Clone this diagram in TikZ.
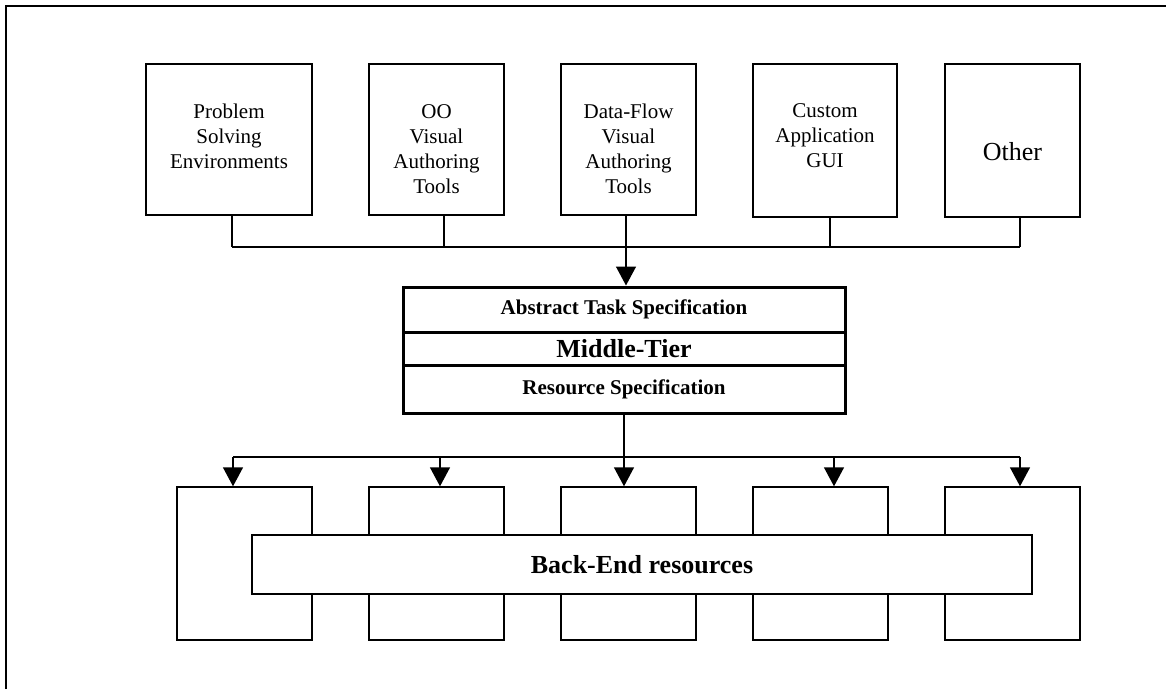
\documentclass[tikz,border=0pt]{standalone}
\usepackage{fontspec}
\setmainfont{Liberation Serif}
\usetikzlibrary{arrows.meta,calc}
\tikzset{
  x=1pt,y=-1pt,
  box/.style={draw,line width=1.4pt,fill=white,inner sep=0pt},
  tiertext/.style={font=\fontsize{21}{25}\selectfont\bfseries},
  toptext/.style={font=\fontsize{21}{25}\selectfont,align=center,inner sep=0pt},
  band/.style={draw,line width=3pt,minimum width=442pt,inner sep=0pt},
  wire/.style={line width=1.4pt},
  arr/.style={line width=1.4pt,-{Triangle[width=20pt,length=19pt]}}
}
\begin{document}
\begin{tikzpicture}
\useasboundingbox (0,0) rectangle (1166,689);
% outer frame (only top and left visible)
\draw[line width=1.5pt] (6,689) -- (6,6) -- (1166,6);

% top boxes
\node[box,minimum width=166pt,minimum height=151pt] (t1) at (229,139.5) {};
\node[box,minimum width=135pt,minimum height=151pt] (t2) at (436.5,139.5) {};
\node[box,minimum width=135pt,minimum height=151pt] (t3) at (628.5,139.5) {};
\node[box,minimum width=144pt,minimum height=153pt] (t4) at (825,140.5) {};
\node[box,minimum width=135pt,minimum height=153pt] (t5) at (1012.5,140.5) {};
\node[toptext] (l1) at (229,136) {Problem\\Solving\\Environments};
\node[toptext] (l2) at (436.5,149) {OO\\Visual\\Authoring\\Tools};
\node[toptext] (l3) at (628.5,149) {Data-Flow\\Visual\\Authoring\\Tools};
\node[toptext] (l4) at (825,136) {Custom\\Application\\GUI};
\node[toptext,font=\fontsize{26}{30}\selectfont] (l5) at (1012.5,152) {Other};

% top bus
\coordinate (c1) at ($(t1.south)+(3,0)$);
\coordinate (c2) at ($(t2.south)+(7.5,0)$);
\coordinate (c3) at ($(t3.south)+(-2.5,0)$);
\coordinate (c4) at ($(t4.south)+(5,0)$);
\coordinate (c5) at ($(t5.south)+(7.5,0)$);
\draw[wire] (c1) -- (c1 |- 0,247);
\draw[wire] (c1 |- 0,247) -- (c5 |- 0,247);
\draw[wire] (c2) -- (c2 |- 0,247);
\draw[wire] (c4) -- (c4 |- 0,247);
\draw[wire] (c5) -- (c5 |- 0,247);

% middle tier
\node[band,minimum height=45pt,tiertext] (ats) at (624,309.5) {Abstract Task Specification};
\node[band,minimum height=33pt,font=\fontsize{26}{30}\selectfont\bfseries] (mt) at (624,348.5) {Middle-Tier};
\node[band,minimum height=48pt,tiertext] (rs) at (624,389) {Resource Specification};
\draw[arr] (c3) -- (c3 |- ats.north);

% bottom boxes
\node[box,minimum width=135pt,minimum height=153pt] (b1) at (244.5,563.5) {};
\node[box,minimum width=135pt,minimum height=153pt] (b2) at (436.5,563.5) {};
\node[box,minimum width=135pt,minimum height=153pt] (b3) at (628.5,563.5) {};
\node[box,minimum width=135pt,minimum height=153pt] (b4) at (820.5,563.5) {};
\node[box,minimum width=135pt,minimum height=153pt] (b5) at (1012.5,563.5) {};
\node[box,minimum width=780pt,minimum height=59pt,font=\fontsize{26}{30}\selectfont\bfseries] (be) at (642,564.5) {Back-End resources};

% bottom bus
\coordinate (d1) at ($(b1.north)+(-11.5,0)$);
\coordinate (d2) at ($(b2.north)+(3.5,0)$);
\coordinate (d3) at ($(b3.north)+(-4.5,0)$);
\coordinate (d4) at ($(b4.north)+(13.5,0)$);
\coordinate (d5) at ($(b5.north)+(7.5,0)$);
\draw[wire] (rs.south) -- (rs.south |- 0,457);
\draw[wire] (d1 |- 0,457) -- (d5 |- 0,457);
\foreach \d in {d1,d2,d3,d4,d5}{
  \draw[arr] (\d |- 0,457) -- (\d);
}
\end{tikzpicture}
\end{document}
